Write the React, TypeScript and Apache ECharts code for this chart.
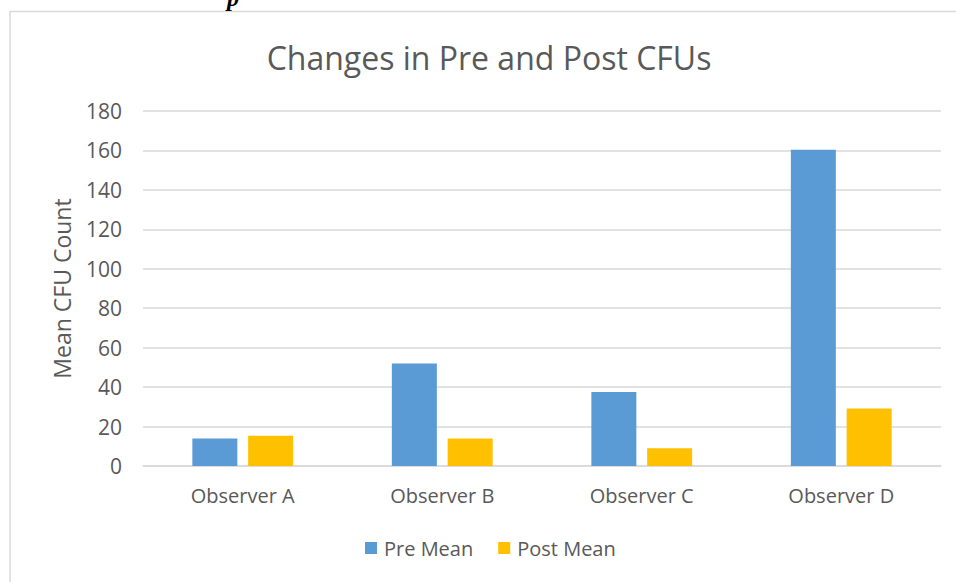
import React, { useEffect, useRef } from "react";
import * as echarts from "echarts";

const categories = ["Observer A", "Observer B", "Observer C", "Observer D"];
const preMean = [14, 52, 37.5, 160.4];
const postMean = [15.4, 14, 9, 29.2];
const seriesNames = ["Pre Mean", "Post Mean"];
const titleText = "Changes in Pre and Post CFUs";
const yAxisName = "Mean CFU Count";

const FONT = "'Open Sans', 'Noto Sans', sans-serif";
const TXT = "#595959";

export default function App() {
  const ref = useRef<HTMLDivElement>(null);
  useEffect(() => {
    if (!ref.current) return;
    const chart = echarts.init(ref.current, undefined, { renderer: "svg" });
    chart.setOption({
      animation: false,
      backgroundColor: "#ffffff",
      textStyle: { fontFamily: FONT },
      graphic: [
        {
          type: "rect",
          shape: { x: 10, y: 11.5, width: 1000, height: 700 },
          style: { fill: "none", stroke: "#d9d9d9", lineWidth: 1.5 },
        },
        {
          type: "text",
          x: 227,
          y: -14,
          style: { text: "p", font: "italic bold 24px 'Liberation Serif', serif", fill: "#000" },
        },
        {
          type: "text",
          x: 489,
          y: 57,
          style: {
            text: titleText,
            fill: TXT,
            font: `32px ${FONT}`,
            textAlign: "center",
            textVerticalAlign: "middle",
          },
        },
      ],
      grid: { left: 143, right: 15, top: 111, bottom: 116 },
      legend: {
        data: seriesNames,
        left: 365,
        top: 538,
        padding: 0,
        itemWidth: 12,
        itemHeight: 12,
        itemGap: 25,
        icon: "rect",
        textStyle: { color: TXT, fontSize: 20, fontFamily: FONT, padding: [0, 0, 0, 2] },
      },
      xAxis: {
        type: "category",
        data: categories,
        axisLine: { lineStyle: { color: "#d9d9d9", width: 1.5 } },
        axisTick: { show: false },
        axisLabel: { color: TXT, fontSize: 20, margin: 19, fontFamily: FONT },
      },
      yAxis: {
        type: "value",
        min: 0,
        max: 180,
        interval: 20,
        name: yAxisName,
        nameLocation: "middle",
        nameGap: 70,
        nameTextStyle: { color: TXT, fontSize: 23, fontFamily: FONT },
        axisLine: { show: false },
        axisTick: { show: false },
        axisLabel: { color: TXT, fontSize: 21, margin: 21, fontFamily: FONT },
        splitLine: { lineStyle: { color: "#d9d9d9", width: 1.5 } },
      },
      series: [
        {
          name: seriesNames[0],
          type: "bar",
          data: preMean,
          barWidth: 45,
          barGap: "24%",
          itemStyle: { color: "#5b9bd5" },
        },
        {
          name: seriesNames[1],
          type: "bar",
          data: postMean,
          barWidth: 45,
          barGap: "24%",
          itemStyle: { color: "#ffc000" },
        },
      ],
    });
    return () => chart.dispose();
  }, []);
  return (
    <div
      ref={ref}
      style={{ position: "absolute", left: 0, top: 0, width: 956, height: 582 }}
    />
  );
}
